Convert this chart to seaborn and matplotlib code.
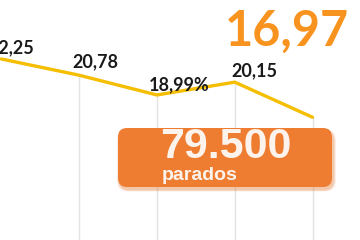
import matplotlib
matplotlib.use("Agg")
import matplotlib.pyplot as plt
import seaborn as sns
import pandas as pd
from matplotlib.patches import FancyBboxPatch

sns.set_theme(style="white")

periods = [0, 1, 2, 3, 4]
values = [22.25, 20.78, 18.99, 20.15, 16.97]
labels = ["22,25", "20,78", "18,99%", "20,15", "16,97"]
box_number = "79.500"
box_text = "parados"

df = pd.DataFrame({"periodo": periods, "tasa": values})

fig = plt.figure(figsize=(3.6, 2.4), dpi=100)
ax = fig.add_axes([0, 0, 1, 1])
ymin, ymax = 5.855, 27.59
ax.set_xlim(-0.017, 4.61)
ax.set_ylim(ymin, ymax)

# vertical guide lines from the bottom up to each point
ax.vlines(periods[1:], ymin, values[1:], color="#E3E3E3", lw=1.0, zorder=1)

sns.lineplot(data=df, x="periodo", y="tasa", ax=ax, color="#F5BE00",
             lw=2.4, zorder=3, legend=False)

px = 0.72  # points per pixel
offsets = [(-13, 11), (-7, 13), (-8, 10), (-3, 11)]
for x, v, lab, (dx, dy) in zip(periods[:4], values[:4], labels[:4], offsets):
    ax.annotate(lab, (x, v), xytext=(dx * px, dy * px), textcoords="offset points",
                ha="left", va="center", fontsize=13, fontweight="bold",
                color="#1A1A1A", family="Lato", zorder=5)

ax.annotate(labels[4], (periods[4], values[4]), xytext=(-88 * px, 86 * px),
            textcoords="offset points", ha="left", va="center", fontsize=35,
            fontweight="bold", color="#F7931E", family="Lato", zorder=5)

# orange callout box (axes-fraction coordinates)
bx0, bx1 = 118 / 360, 332 / 360
by0, by1 = 1 - 187 / 240, 1 - 128 / 240
for i, a in enumerate([0.10, 0.12, 0.15, 0.2]):
    g = (4 - i) * 0.0035
    sh = FancyBboxPatch((bx0 + 0.004 - g / 2, by0 - 0.012 - g / 2),
                        bx1 - bx0 + g, by1 - by0 + g,
                        boxstyle="round,pad=0,rounding_size=0.03",
                        transform=ax.transAxes, facecolor="#E8884A",
                        edgecolor="none", alpha=a, zorder=6, mutation_aspect=1.5)
    ax.add_patch(sh)
box = FancyBboxPatch((bx0, by0), bx1 - bx0, by1 - by0,
                     boxstyle="round,pad=0,rounding_size=0.025",
                     transform=ax.transAxes, facecolor="#EE7D31", edgecolor="none",
                     zorder=7, mutation_aspect=1.5)
ax.add_patch(box)
ax.text(160 / 360, 1 - 147 / 240, box_number, transform=ax.transAxes, ha="left",
        va="center", fontsize=31, fontweight="bold", color="#FBF3EC",
        family="Liberation Sans", zorder=8)
ax.text(162 / 360, 1 - 176 / 240, box_text, transform=ax.transAxes, ha="left",
        va="center", fontsize=14, fontweight="bold", color="#FBF3EC",
        family="Liberation Sans", zorder=8)

ax.axis("off")
fig.savefig("out.png", dpi=100)
